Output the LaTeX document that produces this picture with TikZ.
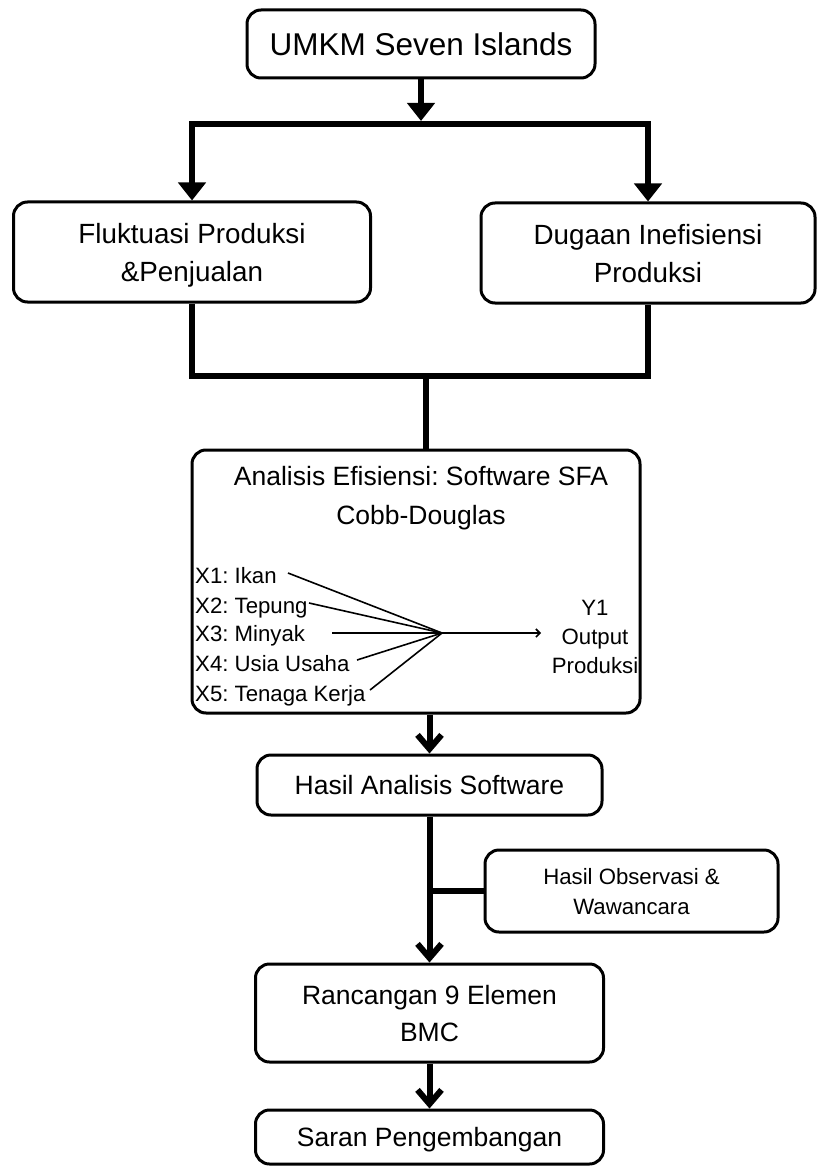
\documentclass[tikz,border=0pt]{standalone}
\usepackage{fontspec}
\setmainfont{Liberation Sans}
\usetikzlibrary{arrows.meta}
\frenchspacing
\begin{document}
\begin{tikzpicture}[x=1pt,y=-1pt,
  box/.style={draw, line width=3pt, rounded corners=14pt, align=center, inner sep=0pt, text depth=0pt},
  conn/.style={line width=6pt},
  tri/.style={conn, -{Triangle[length=18pt,width=27pt]}},
  barb/.style={conn, -{Straight Barb[length=14pt,width=24pt]}},
  thinln/.style={line width=1.6pt},
  xlab/.style={anchor=base west, inner sep=0pt, font=\fontsize{22.2}{26}\selectfont}]
\useasboundingbox (0,0) rectangle (817,1166);

% boxes
\node[box, minimum width=348pt, minimum height=68pt, font=\fontsize{31.5}{38}\selectfont] (top) at (421,44) {UMKM Seven Islands};
\node[box, minimum width=357pt, minimum height=100pt, font=\fontsize{27.8}{38}\selectfont] (fluk) at (192,252) {Fluktuasi Produksi\\\&Penjualan};
\node[box, minimum width=334pt, minimum height=100pt, font=\fontsize{27.8}{38}\selectfont] (dug) at (648,253) {Dugaan Inefisiensi\\Produksi};
\node[box, minimum width=448pt, minimum height=263pt] (anal) at (416,581.5) {};
\node[align=center, inner sep=0pt, font=\fontsize{26.5}{39}\selectfont] (title) at (421,498) {Analisis Efisiensi: Software SFA\\Cobb-Douglas};
\node[box, minimum width=345pt, minimum height=60pt, font=\fontsize{26.5}{36}\selectfont] (hasil) at (429.5,785) {Hasil Analisis Software};
\node[box, minimum width=293pt, minimum height=82pt, font=\fontsize{22.2}{30}\selectfont] (obs) at (631.5,891) {Hasil Observasi \&\\Wawancara};
\node[box, minimum width=348pt, minimum height=98pt, font=\fontsize{26.5}{37}\selectfont] (ranc) at (429.5,1013) {Rancangan 9 Elemen\\BMC};
\node[box, minimum width=348pt, minimum height=54pt, font=\fontsize{26.5}{36}\selectfont] (saran) at (429.5,1137) {Saran Pengembangan};

% inputs inside analysis box
\node[xlab] (x1) at (195,583) {X1: Ikan};
\node[xlab] (x2) at (195,613) {X2: Tepung};
\node[xlab] (x3) at (195,641) {X3: Minyak};
\node[xlab] (x4) at (195,671) {X4: Usia Usaha};
\node[xlab] (x5) at (195,701) {X5: Tenaga Kerja};
\node[align=center, inner sep=0pt, font=\fontsize{22.2}{29}\selectfont] (y1) at (595,636.5) {Y1\\Output\\Produksi};

\coordinate (conv) at (442,633);
\coordinate (s1) at (288,573);
\coordinate (s2) at (309,603);
\coordinate (s3) at (332,633);
\coordinate (s4) at (357,660);
\coordinate (s5) at (370,690);
\coordinate (yend) at (541,633);
\draw[thinln] (s1) -- (conv);
\draw[thinln] (s2) -- (conv);
\draw[thinln] (s3) -- (conv);
\draw[thinln] (s4) -- (conv);
\draw[thinln] (s5) -- (conv);
\draw[thinln, -{Straight Barb[length=4pt,width=8pt]}] (conv) -- (yend);

% connectors
\coordinate (split) at (421,124);
\draw[tri] (top.south) -- ([yshift=3pt]split);
\draw[tri] (split) -| (fluk.north);
\draw[tri] (split) -| (dug.north);

\coordinate (join) at (426,376);
\draw[conn] (fluk.south) |- (join) -| (dug.south);
\draw[conn] (join) -- (join |- anal.north);

\draw[barb] (hasil.north |- anal.south) -- (hasil.north);
\draw[barb] (hasil.south) -- (ranc.north);
\draw[conn] (obs.west) -- (obs.west -| hasil.south);
\draw[barb] (ranc.south) -- (saran.north);
\end{tikzpicture}
\end{document}
